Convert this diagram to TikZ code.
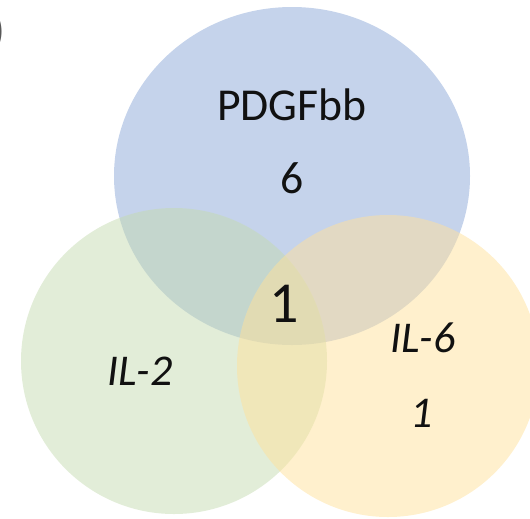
\documentclass[tikz,border=0pt]{standalone}
\usepackage{fontspec}
\setmainfont{Carlito}
\usetikzlibrary{positioning}
\definecolor{pdgf}{HTML}{8BA7D7}
\definecolor{iltwo}{HTML}{C5DBB1}
\definecolor{ilsix}{HTML}{FFE19B}
\definecolor{ink}{HTML}{111111}

\begin{document}
\begin{tikzpicture}[x=0.02cm, y=-0.02cm, line cap=round, line join=round]
  \useasboundingbox (0,0) rectangle (530,518);
  \begin{scope}
    \clip (0,0) rectangle (530,518);
    % Venn circles
    \coordinate (B) at (292,176);
    \coordinate (G) at (174,361);
    \coordinate (Y) at (388,366);
    \fill[pdgf, opacity=0.5] (B) ellipse [x radius=178, y radius=169];
    \fill[iltwo, opacity=0.5] (G) circle [radius=153];
    \fill[ilsix, opacity=0.5] (Y) circle [radius=151];
    % cut-off panel letter
    \node[anchor=east, inner sep=0pt, text=ink!70, font=\fontsize{26}{30}\selectfont] (panel) at (6,32) {)};
  \end{scope}
  % labels
  \node[text=ink, font=\fontsize{26}{30}\selectfont] (pdgfName) at (292,105) {PDGFbb};
  \node[text=ink, font=\fontsize{26}{30}\selectfont] (pdgfNum) at (292,178) {6};
  \node[text=ink, font=\fontsize{33}{36}\selectfont] (allNum) at (284,304) {1};
  \node[text=ink, font=\fontsize{25}{30}\selectfont\itshape] (iltwoName) at (140,371) {IL-2};
  \node[text=ink, font=\fontsize{25}{30}\selectfont\itshape] (ilsixName) at (423,338) {IL-6};
  \node[text=ink, font=\fontsize{25}{30}\selectfont\itshape] (ilsixNum) at (422,413) {1};
\end{tikzpicture}
\end{document}
